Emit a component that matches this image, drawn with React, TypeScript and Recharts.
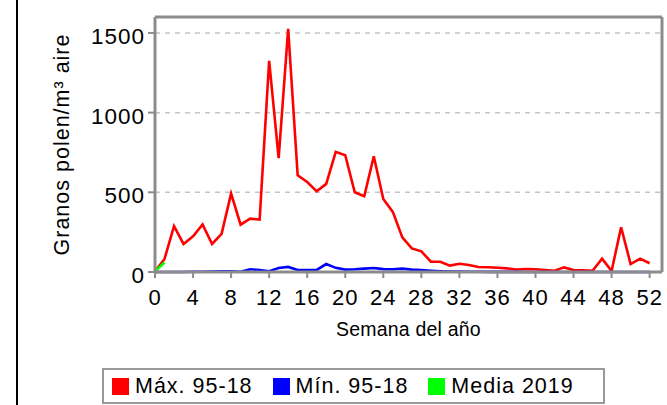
import React from 'react';
import { LineChart, Line, XAxis, YAxis, CartesianGrid, ReferenceLine, Label } from 'recharts';

// semana del año 0..52
const weeks = Array.from({ length: 53 }, (_, i) => i);

// Máx. 95-18
const maxValues = [
  5, 82, 287, 176, 224, 299, 176, 239, 492, 297,
  335, 329, 1325, 714, 1526, 607, 565, 506, 553, 754,
  733, 500, 475, 726, 458, 377, 217, 148, 130, 65,
  64, 40, 52, 44, 31, 30, 27, 23, 16, 19,
  17, 13, 8, 29, 13, 11, 8, 84, 6, 281,
  50, 84, 55,
];

// Mín. 95-18
const minValues = [
  0, 0, 0, 0, 2, 2, 3, 4, 4, 2,
  17, 12, 5, 25, 32, 13, 12, 13, 50, 26,
  15, 17, 21, 25, 18, 17, 21, 15, 12, 8,
  5, 3, 3, 2, 2, 1, 1, 1, 1, 0,
  0, 0, 0, 0, 0, 0, 0, 0, 0, 0,
  0, 0, 0,
];

// Media 2019 (solo primeras semanas)
const mediaValues = [5, 60];

const xTicks = [0, 4, 8, 12, 16, 20, 24, 28, 32, 36, 40, 44, 48, 52];
const yTicks = [0, 500, 1000, 1500];

const series = [
  { key: 'max', name: 'Máx. 95-18', color: '#ff0000' },
  { key: 'min', name: 'Mín. 95-18', color: '#0000ff' },
  { key: 'media', name: 'Media 2019', color: '#00ff00' },
];

const data = weeks.map((w, i) => ({
  week: w,
  max: maxValues[i],
  min: minValues[i],
  media: i < mediaValues.length ? mediaValues[i] : null,
}));

const AXIS = '#8c8c8c';
const X_MAX = 53.3;
const Y_MAX = 1600;

export default function App() {
  return (
    <div
      style={{
        position: 'absolute',
        left: 0,
        top: 0,
        width: 667,
        height: 405,
        background: '#fff',
        fontFamily: '"Liberation Sans", Arial, sans-serif',
        letterSpacing: '1px',
        overflow: 'hidden',
      }}
    >
      <div style={{ position: 'absolute', left: 16, top: 0, width: 2, height: 405, background: '#000' }} />
      <LineChart width={667} height={405} data={data} margin={{ top: 17, right: 5, left: 0, bottom: 69 }}>
        <CartesianGrid vertical={false} stroke="#c4c4c4" strokeWidth={1.5} strokeDasharray="5 5" />
        <XAxis
          dataKey="week"
          type="number"
          domain={[0, X_MAX]}
          ticks={xTicks}
          interval={0}
          height={64}
          tickSize={6}
          tickMargin={11}
          axisLine={{ stroke: AXIS, strokeWidth: 3 }}
          tickLine={{ stroke: AXIS, strokeWidth: 2 }}
          tick={{ fontSize: 22, fill: '#000' }}
        >
          <Label
            value="Semana del año"
            position="insideBottom"
            offset={0}
            style={{ fontSize: 19.5, fill: '#000', letterSpacing: '0.2px' }}
          />
        </XAxis>
        <YAxis
          type="number"
          domain={[0, Y_MAX]}
          ticks={yTicks}
          interval={0}
          width={155}
          tickSize={7}
          tickMargin={3}
          axisLine={{ stroke: AXIS, strokeWidth: 3 }}
          tickLine={{ stroke: AXIS, strokeWidth: 2 }}
          tick={{ fontSize: 22.5, fill: '#000', dy: 3 }}
        >
          <Label
            value="Granos polen/m³ aire"
            angle={-90}
            position="insideLeft"
            offset={61}
            style={{ fontSize: 21.5, fill: '#000', textAnchor: 'middle' }}
          />
        </YAxis>
        <ReferenceLine y={Y_MAX} stroke={AXIS} strokeWidth={3} />
        <ReferenceLine x={X_MAX} stroke={AXIS} strokeWidth={3} />
        {series.map((s) => (
          <Line
            key={s.key}
            dataKey={s.key}
            name={s.name}
            stroke={s.color}
            strokeWidth={2.6}
            dot={false}
            activeDot={false}
            isAnimationActive={false}
            connectNulls={false}
          />
        ))}
      </LineChart>
      <div
        style={{
          position: 'absolute',
          left: 102,
          top: 368,
          width: 491,
          height: 32,
          border: '2px solid #999',
          display: 'flex',
          alignItems: 'center',
          paddingLeft: 8,
          boxSizing: 'content-box',
          fontSize: 21.5,
          color: '#000',
          gap: 20,
        }}
      >
        {series.map((s) => (
          <div key={s.key} style={{ display: 'flex', alignItems: 'center' }}>
            <span style={{ display: 'inline-block', width: 17, height: 17, background: s.color, marginRight: 6 }} />
            <span>{s.name}</span>
          </div>
        ))}
      </div>
    </div>
  );
}
